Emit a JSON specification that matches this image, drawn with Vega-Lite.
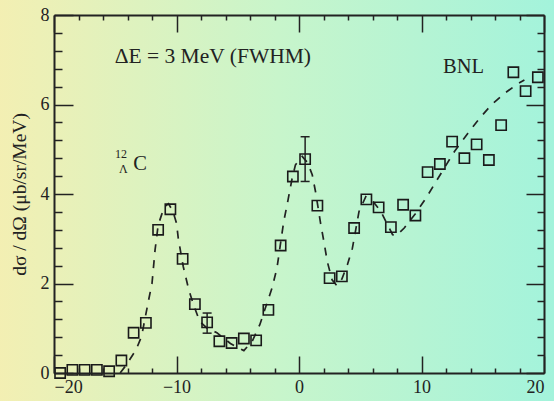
{
  "$schema": "https://vega.github.io/schema/vega-lite/v6.json",
  "width": 490,
  "height": 358,
  "autosize": {"type": "none"},
  "padding": {"left": 54, "top": 15, "right": 10, "bottom": 28},
  "background": "#c8f5cb",
  "config": {
    "view": {"stroke": null},
    "font": "Liberation Serif",
    "axis": {
      "grid": false,
      "domainColor": "#222222",
      "domainWidth": 2,
      "tickColor": "#222222",
      "tickWidth": 1.5,
      "labelFont": "Liberation Serif",
      "labelFontSize": 18,
      "labelColor": "#222222",
      "labelOverlap": false,
      "titleFont": "Liberation Serif",
      "titleFontSize": 19.5,
      "titleFontWeight": "normal",
      "titleColor": "#222222"
    }
  },
  "datasets": {
    "spectrum": [
      {"ex": -19.5, "xs": 0.0},
      {"ex": -18.5, "xs": 0.07},
      {"ex": -17.5, "xs": 0.07},
      {"ex": -16.5, "xs": 0.07},
      {"ex": -15.5, "xs": 0.04},
      {"ex": -14.5, "xs": 0.28},
      {"ex": -13.5, "xs": 0.9},
      {"ex": -12.5, "xs": 1.12},
      {"ex": -11.5, "xs": 3.2},
      {"ex": -10.5, "xs": 3.66},
      {"ex": -9.5, "xs": 2.55},
      {"ex": -8.5, "xs": 1.54},
      {"ex": -7.5, "xs": 1.13},
      {"ex": -6.5, "xs": 0.71},
      {"ex": -5.5, "xs": 0.67},
      {"ex": -4.5, "xs": 0.77},
      {"ex": -3.5, "xs": 0.73},
      {"ex": -2.5, "xs": 1.41},
      {"ex": -1.5, "xs": 2.85},
      {"ex": -0.5, "xs": 4.39},
      {"ex": 0.5, "xs": 4.78},
      {"ex": 1.5, "xs": 3.74},
      {"ex": 2.5, "xs": 2.12},
      {"ex": 3.5, "xs": 2.16},
      {"ex": 4.5, "xs": 3.24},
      {"ex": 5.5, "xs": 3.88},
      {"ex": 6.5, "xs": 3.7},
      {"ex": 7.5, "xs": 3.26},
      {"ex": 8.5, "xs": 3.76},
      {"ex": 9.5, "xs": 3.52},
      {"ex": 10.5, "xs": 4.49},
      {"ex": 11.5, "xs": 4.67},
      {"ex": 12.5, "xs": 5.17},
      {"ex": 13.5, "xs": 4.8},
      {"ex": 14.5, "xs": 5.11},
      {"ex": 15.5, "xs": 4.76},
      {"ex": 16.5, "xs": 5.54},
      {"ex": 17.5, "xs": 6.72},
      {"ex": 18.5, "xs": 6.3},
      {"ex": 19.5, "xs": 6.61}
    ],
    "errors": [
      {"ex": -7.5, "lo": 0.89, "hi": 1.34},
      {"ex": 0.5, "lo": 4.28, "hi": 5.28}
    ],
    "fit": [
      {"ex": -14.6, "xs": 0.0},
      {"ex": -14.1, "xs": 0.18},
      {"ex": -13.3, "xs": 0.52},
      {"ex": -12.85, "xs": 0.82},
      {"ex": -12.3, "xs": 1.6},
      {"ex": -12.0, "xs": 2.0},
      {"ex": -11.75, "xs": 2.75},
      {"ex": -11.5, "xs": 3.3},
      {"ex": -11.2, "xs": 3.55},
      {"ex": -10.9, "xs": 3.73},
      {"ex": -10.65, "xs": 3.78},
      {"ex": -10.3, "xs": 3.62},
      {"ex": -10.0, "xs": 3.35},
      {"ex": -9.85, "xs": 3.0},
      {"ex": -9.45, "xs": 2.38},
      {"ex": -9.0, "xs": 1.86},
      {"ex": -8.6, "xs": 1.52},
      {"ex": -8.1, "xs": 1.15},
      {"ex": -7.5, "xs": 1.0},
      {"ex": -6.7, "xs": 0.9},
      {"ex": -5.6, "xs": 0.66},
      {"ex": -4.5, "xs": 0.5},
      {"ex": -3.8, "xs": 0.72},
      {"ex": -3.2, "xs": 1.08},
      {"ex": -2.2, "xs": 1.9},
      {"ex": -1.8, "xs": 2.34},
      {"ex": -1.25, "xs": 3.38},
      {"ex": -0.97, "xs": 3.76},
      {"ex": -0.56, "xs": 4.35},
      {"ex": -0.29, "xs": 4.65},
      {"ex": 0.26, "xs": 4.84},
      {"ex": 0.7, "xs": 4.7},
      {"ex": 1.08, "xs": 4.43},
      {"ex": 1.35, "xs": 4.05},
      {"ex": 1.76, "xs": 3.35},
      {"ex": 2.03, "xs": 2.94},
      {"ex": 2.31, "xs": 2.49},
      {"ex": 2.7, "xs": 2.08},
      {"ex": 3.1, "xs": 1.95},
      {"ex": 3.5, "xs": 2.1},
      {"ex": 3.95, "xs": 2.42},
      {"ex": 4.36, "xs": 2.79},
      {"ex": 4.9, "xs": 3.61},
      {"ex": 5.45, "xs": 3.94},
      {"ex": 6.0, "xs": 3.85},
      {"ex": 6.68, "xs": 3.61},
      {"ex": 7.23, "xs": 3.31},
      {"ex": 7.64, "xs": 3.09},
      {"ex": 7.95, "xs": 3.07},
      {"ex": 8.59, "xs": 3.24},
      {"ex": 9.5, "xs": 3.56},
      {"ex": 10.37, "xs": 3.91},
      {"ex": 11.19, "xs": 4.28},
      {"ex": 12.69, "xs": 4.95},
      {"ex": 13.79, "xs": 5.36},
      {"ex": 14.74, "xs": 5.69},
      {"ex": 15.7, "xs": 5.99},
      {"ex": 16.79, "xs": 6.25},
      {"ex": 17.89, "xs": 6.47},
      {"ex": 18.4, "xs": 6.55}
    ]
  },
  "layer": [
    {
      "data": {"values": [{}]},
      "mark": {
        "type": "rect",
        "fill": {
          "gradient": "linear",
          "x1": 0, "y1": 0, "x2": 1, "y2": 0,
          "stops": [
            {"offset": 0, "color": "#f4efb2"},
            {"offset": 0.5, "color": "#c8f5cb"},
            {"offset": 1, "color": "#a2f3dc"}
          ]
        }
      },
      "encoding": {
        "x": {
          "datum": -25, "type": "quantitative",
          "scale": {"domain": [-20, 20], "nice": false, "zero": false},
          "axis": {
            "orient": "top",
            "zindex": 2,
            "title": null,
            "labels": false,
            "values": [-20, -18, -16, -14, -12, -10, -8, -6, -4, -2, 0, 2, 4, 6, 8, 10, 12, 14, 16, 18, 20],
            "tickSize": {"condition": {"test": "datum.value % 10 === 0", "value": -17}, "value": -5}
          }
        },
        "x2": {"datum": 21.5},
        "y": {
          "datum": -0.8, "type": "quantitative",
          "scale": {"domain": [0, 8], "nice": false, "zero": false},
          "axis": {
            "orient": "right",
            "zindex": 2,
            "title": null,
            "labels": false,
            "values": [0, 0.4, 0.8, 1.2, 1.6, 2, 2.4, 2.8, 3.2, 3.6, 4, 4.4, 4.8, 5.2, 5.6, 6, 6.4, 6.8, 7.2, 7.6, 8],
            "tickSize": {"condition": {"test": "datum.value % 2 === 0", "value": -18}, "value": -7}
          }
        },
        "y2": {"datum": 8.5}
      }
    },
    {
      "data": {"name": "fit"},
      "mark": {"type": "line", "stroke": "#222222", "strokeWidth": 1.7, "strokeDash": [8, 8]},
      "encoding": {
        "x": {"field": "ex", "type": "quantitative", "scale": {"domain": [-20, 20], "nice": false, "zero": false}, "axis": null},
        "y": {"field": "xs", "type": "quantitative", "scale": {"domain": [0, 8], "nice": false, "zero": false}, "axis": null},
        "order": {"field": "ex"}
      }
    },
    {
      "data": {"name": "errors"},
      "mark": {"type": "rule", "stroke": "#222222", "strokeWidth": 1.5},
      "encoding": {
        "x": {"field": "ex", "type": "quantitative", "scale": {"domain": [-20, 20], "nice": false, "zero": false}, "axis": null},
        "y": {"field": "lo", "type": "quantitative", "scale": {"domain": [0, 8], "nice": false, "zero": false}, "axis": null},
        "y2": {"field": "hi"}
      }
    },
    {
      "data": {"name": "errors"},
      "mark": {"type": "tick", "orient": "horizontal", "size": 9, "thickness": 1.5, "color": "#222222", "opacity": 1},
      "encoding": {
        "x": {"field": "ex", "type": "quantitative", "scale": {"domain": [-20, 20], "nice": false, "zero": false}, "axis": null},
        "y": {"field": "lo", "type": "quantitative", "scale": {"domain": [0, 8], "nice": false, "zero": false}, "axis": null}
      }
    },
    {
      "data": {"name": "errors"},
      "mark": {"type": "tick", "orient": "horizontal", "size": 9, "thickness": 1.5, "color": "#222222", "opacity": 1},
      "encoding": {
        "x": {"field": "ex", "type": "quantitative", "scale": {"domain": [-20, 20], "nice": false, "zero": false}, "axis": null},
        "y": {"field": "hi", "type": "quantitative", "scale": {"domain": [0, 8], "nice": false, "zero": false}, "axis": null}
      }
    },
    {
      "data": {"name": "spectrum"},
      "mark": {"type": "point", "shape": "square", "filled": false, "size": 105, "stroke": "#1a1a1a", "strokeWidth": 1.6, "opacity": 1},
      "encoding": {
        "x": {
          "field": "ex", "type": "quantitative",
          "scale": {"domain": [-20, 20], "nice": false, "zero": false},
          "axis": {
            "orient": "bottom",
            "zindex": 2,
            "title": null,
            "labelFont": "Liberation Serif",
            "values": [-20, -18, -16, -14, -12, -10, -8, -6, -4, -2, 0, 2, 4, 6, 8, 10, 12, 14, 16, 18, 20],
            "labelExpr": "datum.value % 10 === 0 ? datum.label : ''",
            "tickSize": {"condition": {"test": "datum.value % 10 === 0", "value": -17}, "value": -5},
            "labelPadding": 22
          }
        },
        "y": {
          "field": "xs", "type": "quantitative",
          "scale": {"domain": [0, 8], "nice": false, "zero": false},
          "axis": {
            "orient": "left",
            "zindex": 2,
            "title": "dσ / dΩ (μb/sr/MeV)",
            "titlePadding": 9,
            "labelFont": "Liberation Serif",
            "values": [0, 0.4, 0.8, 1.2, 1.6, 2, 2.4, 2.8, 3.2, 3.6, 4, 4.4, 4.8, 5.2, 5.6, 6, 6.4, 6.8, 7.2, 7.6, 8],
            "labelExpr": "datum.value % 2 === 0 ? format(datum.value, 'd') : ''",
            "tickSize": {"condition": {"test": "datum.value % 2 === 0", "value": -19}, "value": -8},
            "labelPadding": 24
          }
        }
      }
    },
    {
      "data": {"values": [{"ex": -15.05, "xs": 6.92, "note": "ΔE = 3 MeV (FWHM)"}]},
      "mark": {"type": "text", "align": "left", "baseline": "alphabetic", "fontSize": 21.5, "color": "#222222", "font": "Liberation Serif"},
      "encoding": {
        "x": {"field": "ex", "type": "quantitative", "scale": {"domain": [-20, 20], "nice": false, "zero": false}, "axis": null},
        "y": {"field": "xs", "type": "quantitative", "scale": {"domain": [0, 8], "nice": false, "zero": false}, "axis": null},
        "text": {"field": "note"}
      }
    },
    {
      "data": {"values": [{"ex": 11.76, "xs": 6.7, "note": "BNL"}, {"ex": -13.53, "xs": 4.54, "note": "C"}]},
      "mark": {"type": "text", "align": "left", "baseline": "alphabetic", "fontSize": 20.5, "color": "#222222", "font": "Liberation Serif"},
      "encoding": {
        "x": {"field": "ex", "type": "quantitative", "scale": {"domain": [-20, 20], "nice": false, "zero": false}, "axis": null},
        "y": {"field": "xs", "type": "quantitative", "scale": {"domain": [0, 8], "nice": false, "zero": false}, "axis": null},
        "text": {"field": "note"}
      }
    },
    {
      "data": {"values": [{"ex": -15.02, "xs": 4.8, "note": "12"}, {"ex": -14.69, "xs": 4.46, "note": "Λ"}]},
      "mark": {"type": "text", "align": "left", "baseline": "alphabetic", "fontSize": 12, "color": "#222222", "font": "Liberation Serif"},
      "encoding": {
        "x": {"field": "ex", "type": "quantitative", "scale": {"domain": [-20, 20], "nice": false, "zero": false}, "axis": null},
        "y": {"field": "xs", "type": "quantitative", "scale": {"domain": [0, 8], "nice": false, "zero": false}, "axis": null},
        "text": {"field": "note"}
      }
    }
  ],
  "resolve": {"axis": {"x": "independent", "y": "independent"}}
}
